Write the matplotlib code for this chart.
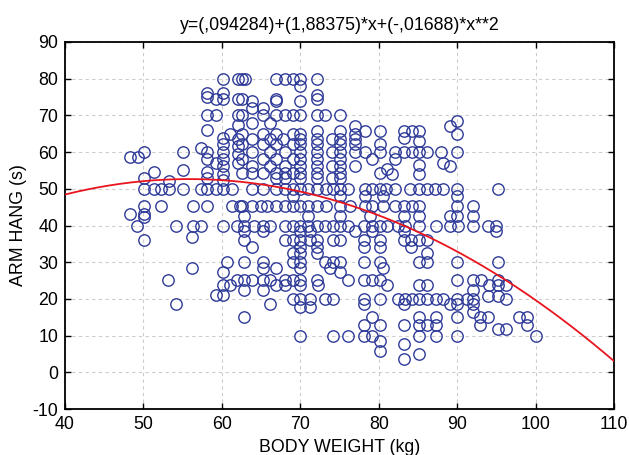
import numpy as np
import matplotlib
matplotlib.use("Agg")
import matplotlib.pyplot as plt

plt.rcParams['font.family'] = ['Liberation Sans', 'DejaVu Sans']
plt.rcParams['axes.unicode_minus'] = False

# fitted quadratic, coefficients as printed in the title
b0, b1, b2 = 0.094284, 1.88375, -0.01688

# arm hang levels (s) and the body weights (kg) observed at each level
hang_levels = [
    80, 78, 76.2, 75.5, 75, 74.4, 73.9, 72, 70, 68.6, 68, 67.5, 67.1, 66,
    65.7, 65, 64.8, 63.9, 63.5, 63, 62.1, 61.6, 61, 60, 59.4, 58.8, 58,
    57.1, 56.6, 56.2, 55.3, 55, 54.6, 54.4, 54, 53, 52.5, 52, 50, 48, 45.3,
    43, 42.5, 42.2, 40, 38.5, 37, 36, 34.2, 32.6, 30, 28.3, 27.4, 25.2,
    23.7, 22.5, 21, 20.7, 20, 18.6, 17.7, 16.3, 15, 13, 11.8, 10, 8.5,
    7.6, 5.8, 4.9, 3.5,
]
weights_at_level = [
    [60.2, 62.0, 62.6, 63.0, 66.9, 68.0, 69.1, 70.0, 72.1],
    [70.0],
    [58.1, 60.2],
    [72.1],
    [58.1],
    [59.2, 60.2, 62.0, 62.6, 66.9, 72.1],
    [63.9, 66.9, 70.0],
    [63.9, 65.2],
    [58.1, 59.2, 62.0, 62.6, 65.2, 66.9, 68.0, 69.1, 70.0, 72.1, 73.1, 75.1],
    [90.0],
    [63.9, 66.1],
    [62.0],
    [77.0, 89.1],
    [58.1],
    [72.1, 75.1, 78.3, 80.2, 83.2, 84.2, 85.1],
    [61.0, 90.0],
    [62.6, 65.2, 66.9, 69.1, 70.0, 77.0],
    [60.2, 83.2],
    [62.0, 63.9, 66.1, 67.8, 70.0, 72.1, 74.0, 75.1, 77.0],
    [85.1],
    [60.2, 62.6, 65.2, 66.9, 69.1, 70.0, 72.1, 75.1, 77.0, 80.2],
    [62.0],
    [57.3],
    [50.1, 55.1, 58.1, 60.2, 63.9, 66.1, 68.0, 70.0, 72.1, 74.0, 75.1, 77.0,
     78.3, 80.2, 82.1, 83.2, 84.2, 85.1, 86.1, 88.0, 90.0],
    [62.0],
    [48.3, 49.3],
    [58.1, 60.2, 62.6, 65.2, 66.9, 69.1, 70.0, 72.1, 75.1, 79.1, 82.1],
    [59.2, 62.0, 88.2],
    [85.1],
    [60.2, 63.9, 66.1, 68.0, 70.0, 72.1, 74.0, 75.1, 77.0, 89.1],
    [81.1],
    [55.1],
    [51.3, 58.1],
    [62.6, 63.9, 65.2, 66.9, 68.0, 69.1, 70.0, 72.1, 75.1, 80.2],
    [60.2, 81.7, 85.1],
    [50.1, 58.1, 66.9, 68.0, 70.0, 72.1, 74.0, 75.1],
    [60.2],
    [53.2],
    [50.1, 51.3, 52.3, 53.2, 55.1, 57.3, 58.1, 59.2, 60.2, 61.3, 63.9, 65.2,
     66.9, 68.0, 69.1, 70.0, 71.0, 72.1, 73.3, 74.2, 75.1, 76.1, 78.3, 79.1,
     80.2, 80.9, 82.1, 84.0, 85.1, 86.1, 87.2, 88.2, 90.0, 95.2],
    [69.1, 75.1, 78.3, 80.6, 90.0],
    [50.1, 52.3, 56.3, 58.1, 61.3, 62.3, 62.6, 63.9, 65.0, 65.8, 66.9, 68.0,
     69.1, 70.0, 71.0, 72.1, 73.3, 75.1, 76.4, 78.3, 79.1, 80.6, 82.1, 83.2,
     84.2, 85.1, 90.0, 92.0],
    [48.3, 50.1],
    [62.8, 71.0, 75.1, 78.9, 83.2, 85.1, 89.1, 90.0, 92.0],
    [50.1],
    [49.2, 54.1, 56.3, 57.3, 60.2, 61.9, 62.8, 64.1, 65.2, 66.1, 68.0, 69.1,
     70.0, 71.0, 72.1, 73.1, 74.2, 75.1, 76.1, 78.1, 79.1, 80.2, 81.1, 82.4,
     83.4, 85.1, 87.3, 89.1, 90.1, 92.0, 93.9, 95.0],
    [62.8, 65.2, 70.0, 71.2, 77.0, 79.1, 83.2, 95.0],
    [56.2],
    [50.1, 62.8, 68.0, 69.1, 70.0, 71.2, 72.1, 74.2, 75.1, 78.1, 80.2, 83.2,
     84.1, 85.1, 86.1],
    [63.9, 70.0, 72.1, 78.1, 80.2, 84.1],
    [69.1, 70.0, 72.1, 86.1],
    [60.6, 62.8, 65.2, 69.1, 70.0, 73.1, 74.2, 75.1, 78.1, 80.2, 85.1, 86.1,
     90.0, 95.2],
    [56.2, 65.2, 66.9, 70.0, 73.8, 80.5],
    [60.2, 75.1],
    [53.1, 61.9, 62.8, 63.9, 65.2, 66.1, 68.0, 69.1, 70.0, 72.1, 76.1, 78.1,
     79.1, 80.2, 90.0, 92.0, 93.1, 95.2],
    [60.2, 61.0, 66.9, 68.0, 70.0, 72.2, 81.1, 85.1, 86.1, 94.1, 95.2, 96.2],
    [62.8, 65.2, 92.0],
    [59.2, 60.2],
    [93.9, 95.2],
    [69.1, 70.0, 71.2, 73.1, 74.2, 78.1, 80.2, 82.4, 83.4, 84.2, 85.1, 86.1,
     87.3, 88.2, 90.0, 91.3, 92.0, 96.2],
    [54.1, 66.1, 78.1, 83.2, 89.1, 90.0, 92.0],
    [70.0, 71.2],
    [92.0],
    [62.8, 79.1, 85.1, 87.3, 90.0, 92.9, 93.9, 97.9, 98.9],
    [78.1, 80.2, 83.2, 85.1, 86.1, 87.3, 92.9, 98.9],
    [95.2, 96.2],
    [70.0, 74.2, 76.1, 78.1, 79.1, 85.1, 87.3, 90.0, 100.0],
    [80.2],
    [83.2],
    [80.2],
    [85.1],
    [83.2],
]

weight = []
arm_hang = []
for lvl, ws in zip(hang_levels, weights_at_level):
    weight.extend(ws)
    arm_hang.extend([lvl] * len(ws))

fig = plt.figure(figsize=(6.29, 4.55), dpi=100)
ax = fig.add_axes([65 / 629, 1 - 409 / 455, 549 / 629, 367 / 455])

ax.plot(weight, arm_hang, linestyle='none', marker='o', markersize=8.2,
        markerfacecolor='none', markeredgecolor='#2e3a98', markeredgewidth=1.0,
        zorder=3)

xs = np.linspace(40, 110, 300)
ax.plot(xs, b0 + b1 * xs + b2 * xs ** 2, color='#e8141e', lw=1.3, zorder=4)

ax.set_xlim(40, 110)
ax.set_ylim(-10, 90)
ax.set_xticks(range(40, 111, 10))
ax.set_yticks(range(-10, 91, 10))
ax.grid(True, color='#cccccc', linestyle=(0, (3, 3)), linewidth=0.8)
ax.set_axisbelow(True)
ax.tick_params(direction='in', length=4, width=1, top=True, right=True,
               labelsize=12.8, pad=5, colors='black')
for s in ax.spines.values():
    s.set_linewidth(1.3)

ax.set_title('y=(,094284)+(1,88375)*x+(-,01688)*x**2', fontsize=12.8, pad=9)
ax.set_xlabel('BODY WEIGHT (kg)', fontsize=12.8)
ax.set_ylabel('ARM HANG (s)', fontsize=12.8)
ax.xaxis.set_label_coords(0.5, -0.083)
ax.yaxis.set_label_coords(-0.069, 0.5)

fig.savefig('out.png', dpi=100)
